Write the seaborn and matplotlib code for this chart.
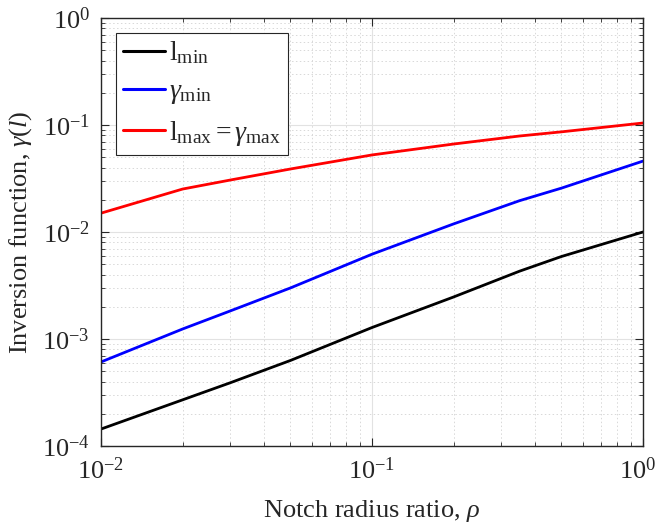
import numpy as np
import pandas as pd
import matplotlib
matplotlib.use("Agg")
import matplotlib.pyplot as plt
import matplotlib.transforms as mtransforms
import seaborn as sns
from matplotlib.ticker import LogLocator, NullFormatter

rho = [0.01, 0.02, 0.03, 0.05, 0.1, 0.2, 0.35, 0.5, 1.0]
l_min = [1.44e-4, 2.7e-4, 3.9e-4, 6.3e-4, 1.28e-3, 2.47e-3, 4.3e-3, 5.9e-3, 0.0100]
gamma_min = [6.1e-4, 1.24e-3, 1.83e-3, 3.0e-3, 6.2e-3, 0.0119, 0.0196, 0.0257, 0.046]
gamma_max = [0.0150, 0.0252, 0.0306, 0.0388, 0.0525, 0.0664, 0.0789, 0.0863, 0.1044]

x_ticks = [0.01, 0.1, 1.0]
x_ticklabels = [r'$10^{-2}$', r'$10^{-1}$', r'$10^{0}$']
y_ticks = [1e-4, 1e-3, 1e-2, 1e-1, 1.0]
y_ticklabels = [r'$10^{-4}$', r'$10^{-3}$', r'$10^{-2}$', r'$10^{-1}$', r'$10^{0}$']

labels = [r'$\mathrm{l}_{\mathrm{min}}$', r'$\gamma_{\mathrm{min}}$',
          r'$\mathrm{l}_{\mathrm{max}} = \gamma_{\mathrm{max}}$']
colors = ['#000000', '#0000ff', '#ff0000']

df = pd.concat([
    pd.DataFrame({'rho': rho, 'val': v, 'series': lab})
    for v, lab in zip([l_min, gamma_min, gamma_max], labels)
])

sns.set_style("ticks")
plt.rcParams['font.family'] = ['Liberation Serif', 'DejaVu Serif']
plt.rcParams['mathtext.fontset'] = 'custom'
plt.rcParams['mathtext.rm'] = 'Liberation Serif'
plt.rcParams['mathtext.it'] = 'Liberation Serif:italic'
plt.rcParams['mathtext.bf'] = 'Liberation Serif:bold'

fig = plt.figure(figsize=(6.6, 5.26), dpi=100)
ax = fig.add_axes([101/660, 1-446/526, (643-101)/660, (446-18)/526])

sns.lineplot(data=df, x='rho', y='val', hue='series', palette=colors,
             hue_order=labels, linewidth=2.0, ax=ax, sort=False, estimator=None)

ax.set_xscale('log')
ax.set_yscale('log')
ax.set_xlim(1e-2, 1)
ax.set_ylim(1e-4, 1)

ax.set_xticks(x_ticks)
ax.set_xticklabels(x_ticklabels)
ax.set_yticks(y_ticks)
ax.set_yticklabels(y_ticklabels)
ax.xaxis.set_minor_locator(LogLocator(base=10, subs=np.arange(2, 10), numticks=20))
ax.yaxis.set_minor_locator(LogLocator(base=10, subs=np.arange(2, 10), numticks=20))
ax.xaxis.set_minor_formatter(NullFormatter())
ax.yaxis.set_minor_formatter(NullFormatter())

ax.grid(True, which='major', color='#e2e2e2', linestyle='-', linewidth=0.8)
ax.grid(True, which='minor', color='#d8d8d8', linestyle=(0, (1.5, 2.5)), linewidth=0.7)
ax.set_axisbelow(True)

for s in ax.spines.values():
    s.set_visible(True)
    s.set_linewidth(1.0)
    s.set_color('#262626')
ax.tick_params(which='both', direction='in', top=True, right=True, colors='#262626')
ax.tick_params(which='major', length=6, labelsize=19, pad=8)
ax.tick_params(which='minor', length=3)
for t in ax.get_xticklabels() + ax.get_yticklabels():
    t.set_color('#262626')

# nudge the rightmost x tick label inward so it stays inside the figure
last = ax.get_xticklabels()[-1]
last.set_transform(last.get_transform() +
                   mtransforms.ScaledTranslation(-5/100, 0, fig.dpi_scale_trans))

ax.set_xlabel(r'Notch radius ratio, $\it{\rho}$', fontsize=19, color='#262626', labelpad=10)
ax.set_ylabel(r'Inversion function, $\it{\gamma(l)}$', fontsize=19, color='#262626', labelpad=6)

h, l = ax.get_legend_handles_labels()
leg = ax.legend(h, labels, loc='upper left', bbox_to_anchor=(0.028, 0.966),
                fontsize=20, frameon=True, fancybox=False, edgecolor='#262626',
                framealpha=1, handlelength=1.5, handletextpad=0.15, borderpad=0.25,
                labelspacing=0.45, borderaxespad=0)
leg.get_frame().set_linewidth(0.8)
for line in leg.get_lines():
    line.set_linewidth(2.2)

fig.savefig('out.png', dpi=100)
